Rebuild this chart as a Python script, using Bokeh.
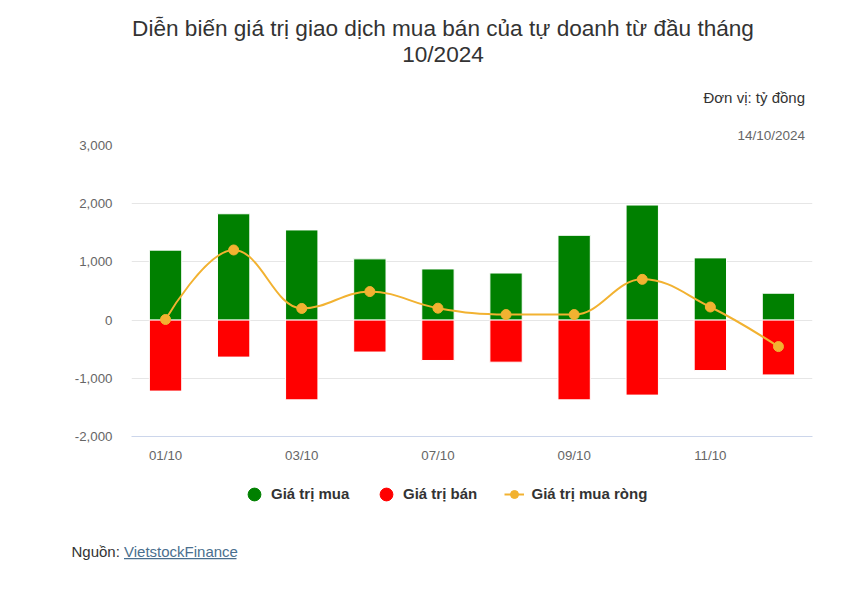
from bokeh.plotting import figure
from bokeh.layouts import column
from bokeh.models import (Range1d, FixedTicker, NumeralTickFormatter, Label,
                          Legend, LegendItem, BoxAnnotation)
from bokeh.embed import file_html
from bokeh.resources import INLINE

# ---- data (tỷ đồng) ----
dates = ["01/10", "02/10", "03/10", "04/10", "07/10",
         "08/10", "09/10", "10/10", "11/10", "14/10"]
buy = [1202, 1827, 1549, 1052, 879, 809, 1457, 1977, 1069, 462]
sell = [-1220, -636, -1370, -549, -694, -723, -1370, -1289, -867, -942]
net = [10, 1205, 200, 490, 205, 95, 95, 700, 225, -455]
x_tick_idx = [0, 2, 4, 6, 8]
y_ticks = [-2000, -1000, 0, 1000, 2000, 3000]

title1 = "Diễn biến giá trị giao dịch mua bán của tự doanh từ đầu tháng"
title2 = "10/2024"
unit_note = "Đơn vị: tỷ đồng"
date_note = "14/10/2024"
src_prefix = "Nguồn: "
src_link = "VietstockFinance"
legend_names = ["Giá trị mua", "Giá trị bán", "Giá trị mua ròng"]

GREEN = "#008000"
RED = "#ff0000"
GOLD = "#f2b231"
FONT = "Liberation Sans"
W = 852
HEAD_H, MAIN_H, FOOT_H = 112, 358, 119
NAN = float("nan")


def blank(h, y0):
    f = figure(width=W, height=h, output_backend="svg", toolbar_location=None,
               x_range=Range1d(0, W), y_range=Range1d(y0 + h, y0),
               x_axis_location=None, y_axis_location=None,
               min_border=0, min_border_left=0, min_border_right=0,
               min_border_top=0, min_border_bottom=0, frame_align=False)
    f.outline_line_color = None
    f.xgrid.visible = False
    f.ygrid.visible = False
    f.background_fill_color = "white"
    f.border_fill_color = "white"
    return f


def lab(f, text, px, py, size, color="#333333", align="left", style="normal"):
    f.add_layout(Label(x=px, y=py, text=text, text_font=FONT, text_font_size=size,
                       text_color=color, text_align=align,
                       text_baseline="alphabetic", text_font_style=style))


# ---------------- header ----------------
head = blank(HEAD_H, 0)
lab(head, title1, 442.5, 28, "22.6px", align="center")
lab(head, title2, 442.5, 54, "22.6px", align="center")
lab(head, unit_note, 804.5, 97.3, "15px", align="right")

# ---------------- main chart ----------------
p = figure(width=W, height=MAIN_H, output_backend="svg", toolbar_location=None,
           x_range=Range1d(-0.5, 9.5), y_range=Range1d(-2000, 3000),
           min_border_left=131, min_border_right=40,
           min_border_top=145 - HEAD_H, min_border_bottom=34, frame_align=False)
p.outline_line_color = None
p.background_fill_color = "white"
p.border_fill_color = "white"

p.title.text = date_note
p.title.align = "right"
p.title.offset = 7.5
p.title.standoff = 6
p.title.text_font = FONT
p.title.text_font_size = "13.5px"
p.title.text_font_style = "normal"
p.title.text_color = "#666666"

xs = list(range(len(dates)))

p.vbar(x=xs, top=buy, bottom=0, width=0.475, fill_color=GREEN,
       line_color="white", line_width=1)
p.vbar(x=xs, top=0, bottom=sell, width=0.475, fill_color=RED,
       line_color="white", line_width=1)

# spline (Highcharts-like smoothing) through the net values
n = len(net)
lc = [(xs[i], net[i]) for i in range(n)]
rc = [(xs[i], net[i]) for i in range(n)]
sm, dn = 1.5, 2.5
for i in range(1, n - 1):
    px, py = xs[i], net[i]
    lx, ly = xs[i - 1], net[i - 1]
    nx, ny = xs[i + 1], net[i + 1]
    lcx, lcy = (sm * px + lx) / dn, (sm * py + ly) / dn
    rcx, rcy = (sm * px + nx) / dn, (sm * py + ny) / dn
    corr = ((rcy - lcy) * (rcx - px)) / (rcx - lcx) + py - rcy
    lcy += corr
    rcy += corr
    if lcy > ly and lcy > py:
        lcy = max(ly, py); rcy = 2 * py - lcy
    elif lcy < ly and lcy < py:
        lcy = min(ly, py); rcy = 2 * py - lcy
    if rcy > ny and rcy > py:
        rcy = max(ny, py); lcy = 2 * py - rcy
    elif rcy < ny and rcy < py:
        rcy = min(ny, py); lcy = 2 * py - rcy
    lc[i] = (lcx, lcy)
    rc[i] = (rcx, rcy)

p.bezier(x0=xs[:-1], y0=net[:-1], x1=xs[1:], y1=net[1:],
         cx0=[rc[i][0] for i in range(n - 1)], cy0=[rc[i][1] for i in range(n - 1)],
         cx1=[lc[i + 1][0] for i in range(n - 1)], cy1=[lc[i + 1][1] for i in range(n - 1)],
         line_color=GOLD, line_width=2)
p.scatter(x=xs, y=net, size=10, marker="circle", fill_color=GOLD, line_color=GOLD)

p.xaxis.ticker = FixedTicker(ticks=x_tick_idx)
p.xaxis.major_label_overrides = {i: dates[i] for i in x_tick_idx}
p.xaxis.axis_line_color = "#ccd6eb"
p.xaxis.major_tick_line_color = None
p.xaxis.minor_tick_line_color = None
p.xaxis.major_tick_out = 0
p.xaxis.major_tick_in = 0
p.xaxis.major_label_standoff = 11
p.xaxis.major_label_text_color = "#666666"
p.xaxis.major_label_text_font = FONT
p.xaxis.major_label_text_font_size = "13.3px"

p.yaxis.ticker = FixedTicker(ticks=y_ticks)
p.yaxis.formatter = NumeralTickFormatter(format="0,0")
p.yaxis.axis_line_color = None
p.yaxis.major_tick_line_color = None
p.yaxis.minor_tick_line_color = None
p.yaxis.major_tick_out = 0
p.yaxis.major_tick_in = 0
p.yaxis.major_label_standoff = 19
p.yaxis.major_label_text_color = "#666666"
p.yaxis.major_label_text_font = FONT
p.yaxis.major_label_text_font_size = "13.3px"

p.xgrid.visible = False
p.ygrid.ticker = FixedTicker(ticks=y_ticks)
p.ygrid.grid_line_color = "#e6e6e6"
p.ygrid.grid_line_width = 1

# ---------------- footer: legend + source ----------------
FOOT_Y0 = HEAD_H + MAIN_H
foot = blank(FOOT_H, FOOT_Y0)

# legend-only renderers (no visible marks)
d_buy = foot.scatter(x=[NAN], y=[NAN], marker="circle", fill_color=GREEN, line_color=GREEN)
d_sell = foot.scatter(x=[NAN], y=[NAN], marker="circle", fill_color=RED, line_color=RED)
d_line = foot.line(x=[NAN], y=[NAN], line_color=GOLD, line_width=2)
d_dot = foot.scatter(x=[NAN], y=[NAN], marker="circle", fill_color=GOLD, line_color=GOLD)

LEG_BOTTOM = FOOT_Y0 + FOOT_H - 509.6  # legend box bottom, px above footer bottom


def mk_legend(label, rends, vx, gw, standoff):
    lg = Legend(items=[LegendItem(label=label, renderers=rends)],
                location=(vx, LEG_BOTTOM), orientation="horizontal",
                glyph_width=gw, glyph_height=32, label_standoff=standoff,
                padding=0, margin=0, border_line_color=None,
                background_fill_alpha=0,
                label_text_font=FONT, label_text_font_size="15px",
                label_text_font_style="bold", label_text_color="#333333")
    foot.add_layout(lg)


mk_legend(legend_names[0], [d_buy], 238, 32, 1)
mk_legend(legend_names[1], [d_sell], 370, 32, 1)
mk_legend(legend_names[2], [d_line, d_dot], 503.5, 20, 8)

LINK = "#4a6f8e"
lab(foot, src_prefix, 71, 550.7, "15px")
lab(foot, src_link, 123.5, 550.7, "15px", color=LINK)
foot.add_layout(BoxAnnotation(left=123.5, right=236, top=557.6, bottom=558.7,
                              fill_color=LINK, fill_alpha=1, line_color=None))

layout = column(head, p, foot, spacing=0)
open("out.html", "w").write(file_html(layout, INLINE))
